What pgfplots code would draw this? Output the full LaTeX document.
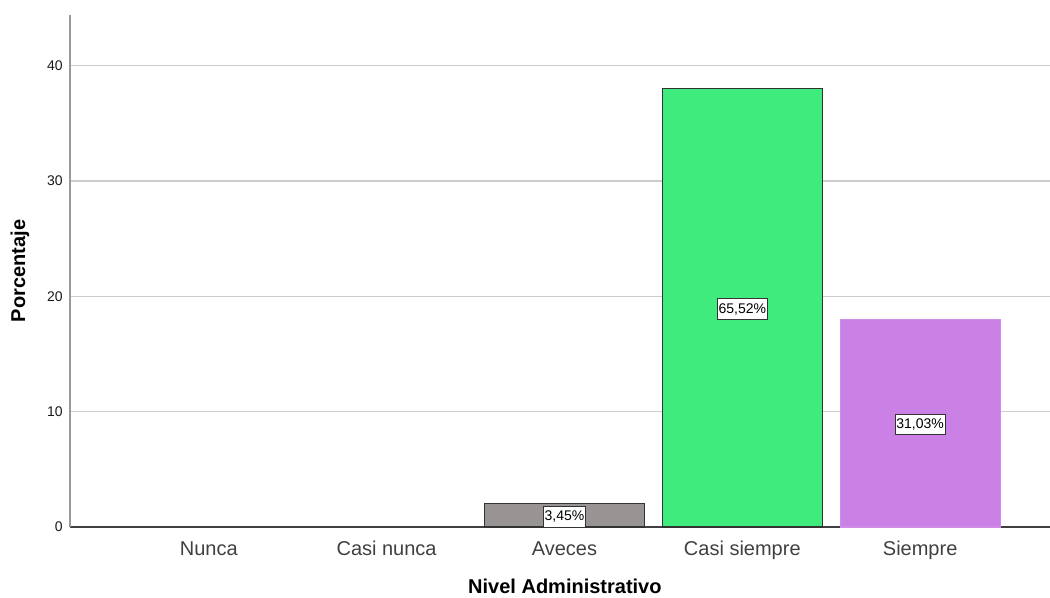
\documentclass[border=0pt]{standalone}
\usepackage{fontspec}
\setmainfont{Liberation Sans}
\usepackage{pgfplots}
\pgfplotsset{compat=1.18}
\definecolor{bgrey}{RGB}{153,148,148}
\definecolor{bgreen}{RGB}{64,235,125}
\definecolor{bpurple}{RGB}{203,128,229}
\begin{document}
\begin{tikzpicture}
\useasboundingbox (0,0) rectangle (787.5pt,447.75pt);
\begin{axis}[
  at={(52.5pt,52.5pt)}, anchor=south west,
  scale only axis, width=735pt, height=384pt,
  xmin=-0.78, xmax=4.73, ymin=0, ymax=44.4,
  axis lines*=left,
  x axis line style={draw=black!75, line width=0.9pt},
  y axis line style={draw=black!40, line width=1.3pt},
  xtick={0,1,2,3,4},
  xticklabels={Nunca,Casi nunca,Aveces,Casi siempre,Siempre},
  ytick={0,10,20,30,40},
  major tick length=0pt,
  /pgf/number format/assume math mode=true,
  xticklabel style={font=\fontsize{15}{18}\selectfont, text=black!75, text depth=0.25em, text height=0.75em, yshift=-10pt},
  yticklabel style={font=\fontsize{10.5}{12}\selectfont, text=black!90, xshift=-2pt},
  ymajorgrids,
  grid style={draw=black!20, line width=1pt},
  xlabel={Nivel Administrativo},
  ylabel={Porcentaje},
  every axis x label/.style={at={(axis description cs:0.505,-0.115)}, anchor=center, font=\fontsize{15}{18}\selectfont\bfseries},
  every axis y label/.style={at={(axis description cs:-0.051,0.5)}, rotate=90, anchor=center, font=\fontsize{15}{18}\selectfont\bfseries},
  clip=false,
]
\addplot[ybar, bar width=120pt, bar shift=0pt, fill=bgrey, draw=black!80, line width=0.8pt] coordinates {(2,2)};
\addplot[ybar, bar width=120pt, bar shift=0pt, fill=bgreen, draw=black!80, line width=0.8pt] coordinates {(3,38)};
\addplot[ybar, bar width=120pt, bar shift=0pt, fill=bpurple, draw=bpurple!90!white, line width=0.8pt] coordinates {(4,18)};
\addplot[only marks, mark=none, draw=none,
  point meta=explicit symbolic,
  nodes near coords,
  nodes near coords align={center},
  every node near coord/.append style={anchor=center, draw=black!80, fill=white, line width=0.6pt, font=\fontsize{10.5}{12}\selectfont, inner xsep=1pt, inner ysep=3.5pt, text=black}]
  coordinates {(2,0.9) [3,45\%] (3,18.9) [65,52\%] (4,8.9) [31,03\%]};
\end{axis}
\end{tikzpicture}
\end{document}
